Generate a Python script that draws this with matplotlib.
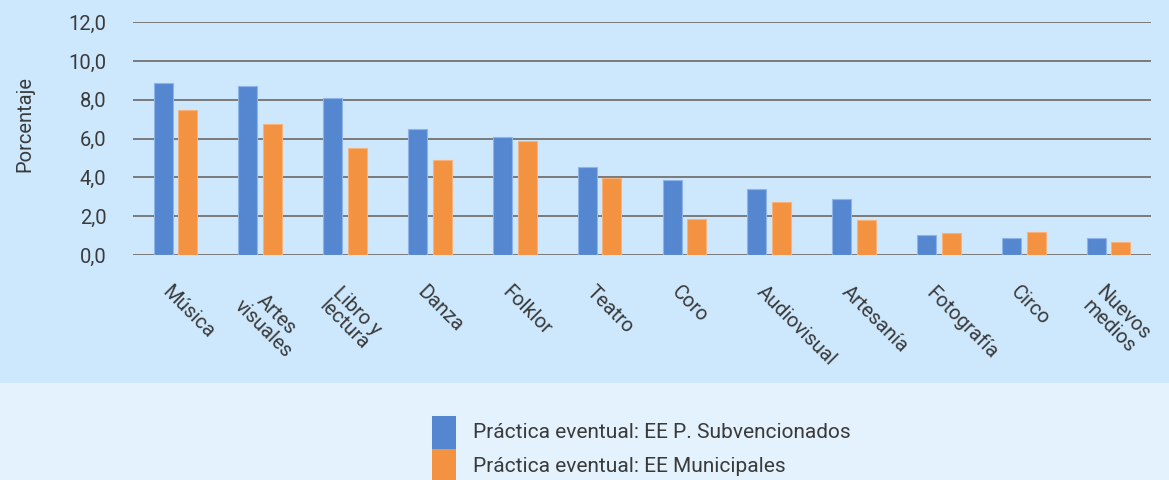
import numpy as np
import matplotlib
matplotlib.use("Agg")
import matplotlib.pyplot as plt
from matplotlib.patches import Rectangle
from matplotlib.transforms import ScaledTranslation

plt.rcParams['font.family'] = ['Roboto', 'DejaVu Sans']
plt.rcParams['font.weight'] = 'normal'

# datos
categorias = ["Música", "Artes\nvisuales", "Libro y\nlectura", "Danza", "Folklor", "Teatro",
              "Coro", "Audiovisual", "Artesanía", "Fotografía", "Circo", "Nuevos\nmedios"]
subvencionados = [8.86, 8.73, 8.12, 6.50, 6.06, 4.53, 3.88, 3.40, 2.88, 1.03, 0.86, 0.86]
municipales = [7.50, 6.76, 5.51, 4.91, 5.89, 3.98, 1.84, 2.73, 1.80, 1.13, 1.17, 0.67]
etiquetas_y = ["0,0", "2,0", "4,0", "6,0", "8,0", "10,0", "12,0"]
serie_1 = "Práctica eventual: EE P. Subvencionados"
serie_2 = "Práctica eventual: EE Municipales"

azul = "#5587d0"
naranja = "#f39240"
texto = "#3a3a3a"
W, H = 1169, 480

fig = plt.figure(figsize=(W / 100, H / 100), dpi=100)
fig.patch.set_facecolor("#e3f2fd")
# franja superior mas oscura (zona del grafico)
fig.patches.append(Rectangle((0, 1 - 383 / H), 1, 383 / H, transform=fig.transFigure,
                             facecolor="#cde8fd", edgecolor="none", zorder=-5))

ax = fig.add_axes([133 / W, 1 - 255 / H, (1151 - 133) / W, 232.7 / H])
ax.set_facecolor("none")

x = np.arange(len(categorias))
ancho = 0.225
ax.bar(x - 0.145, subvencionados, ancho, color=azul, edgecolor="#8db3e8", linewidth=0.8,
       zorder=3, label=serie_1)
ax.bar(x + 0.145, municipales, ancho, color=naranja, edgecolor="#f7b27c", linewidth=0.8,
       zorder=3, label=serie_2)

ax.set_xlim(-0.5, len(categorias) - 0.5)
ax.set_ylim(0, 12)
ax.set_yticks(np.arange(0, 13, 2), etiquetas_y)
ax.yaxis.grid(True, color="#7a7a7a", linewidth=1.4, zorder=1)
ax.set_axisbelow(True)
for s in ax.spines.values():
    s.set_visible(False)
ax.tick_params(axis="y", length=0, pad=19, labelsize=14.5, labelcolor=texto)
ax.tick_params(axis="x", length=0, pad=20, labelsize=14.5, labelcolor=texto)

ax.set_xticks(x, categorias)
desplaz = ScaledTranslation(-0.03, 0, fig.dpi_scale_trans)
for lab in ax.get_xticklabels():
    lab.set_rotation(-45)
    lab.set_rotation_mode("anchor")
    lab.set_ha("left")
    lab.set_va("top")
    lab.set_multialignment("center")
    lab.set_linespacing(1.0)
    lab.set_transform(lab.get_transform() + desplaz)

fig.text(25 / W, 1 - 124 / H, "Porcentaje", rotation=90, ha="center", va="center",
         fontsize=14.5, color=texto)

# leyenda a mano: cuadros pegados uno sobre otro, el segundo cortado por el borde
for i, (col, txt) in enumerate([(azul, serie_1), (naranja, serie_2)]):
    top = 416 + 33 * i
    fig.patches.append(Rectangle((432 / W, 1 - (top + 33) / H), 24 / W, 33 / H,
                                 transform=fig.transFigure, facecolor=col, edgecolor="none"))
    fig.text(473 / W, 1 - (432 + 35 * i) / H, txt, ha="left", va="center",
             fontsize=15, color=texto)

fig.savefig("out.png", dpi=100, facecolor=fig.get_facecolor())
